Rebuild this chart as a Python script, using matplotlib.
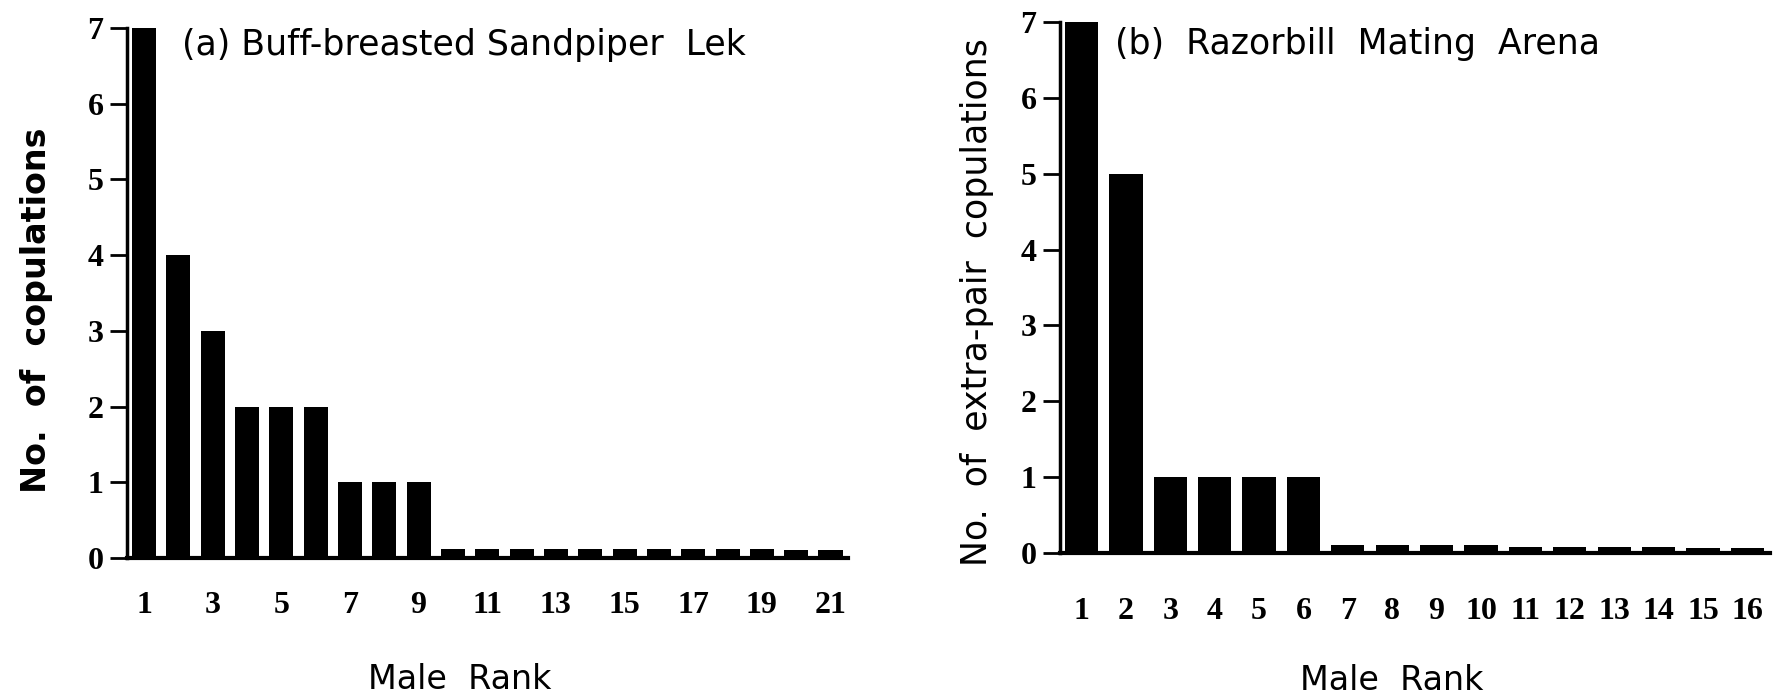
import matplotlib
matplotlib.use("Agg")
import matplotlib.pyplot as plt

# ---- data ----
ranks_a = list(range(1, 22))
copulations_a = [7, 4, 3, 2, 2, 2, 1, 1, 1,
                 0.12, 0.12, 0.12, 0.12, 0.12, 0.12, 0.12, 0.12, 0.12, 0.12, 0.1, 0.1]
xticks_a = [1, 3, 5, 7, 9, 11, 13, 15, 17, 19, 21]

ranks_b = list(range(1, 17))
copulations_b = [7, 5, 1, 1, 1, 1,
                 0.1, 0.1, 0.1, 0.1, 0.08, 0.08, 0.08, 0.08, 0.06, 0.06]
xticks_b = list(range(1, 17))

yticks = [0, 1, 2, 3, 4, 5, 6, 7]

title_a = "(a) Buff-breasted Sandpiper  Lek"
title_b = "(b)  Razorbill  Mating  Arena"
ylabel_a = "No.  of  copulations"
ylabel_b = "No.  of  extra-pair  copulations"
xlabel = "Male  Rank"

W, H = 1775, 699
fig = plt.figure(figsize=(W / 100, H / 100), dpi=100)

serif = {"family": "Liberation Serif", "weight": "bold", "size": 23}
sans = ["DejaVu Sans"]


def style(ax, xpad):
    for s in ("top", "right"):
        ax.spines[s].set_visible(False)
    ax.spines["left"].set_linewidth(2.5)
    ax.spines["bottom"].set_linewidth(3)
    ax.tick_params(axis="y", direction="out", length=12, width=2, pad=5)
    ax.tick_params(axis="x", length=0, pad=xpad)
    ax.set_ylim(0, 7)
    ax.set_yticks(yticks)
    ax.set_yticklabels([str(v) for v in yticks], fontdict=serif)


# panel (a)
ax1 = fig.add_axes([127 / W, 1 - 558 / H, (848 - 127) / W, (558 - 28) / H])
ax1.bar(ranks_a, copulations_a, width=0.7, color="black")
ax1.set_xlim(0.504, 21.51)
style(ax1, 24)
ax1.set_xticks(xticks_a)
ax1.set_xticklabels([str(v) for v in xticks_a], fontdict=serif)
fig.text(182 / W, 1 - 45 / H, title_a, family=sans, fontsize=25, ha="left", va="center")
fig.text(37 / W, 1 - 310 / H, ylabel_a, family=sans, fontsize=24, weight="bold",
         rotation=90, ha="center", va="center")
fig.text(460 / W, 1 - 689 / H, xlabel, family=sans, fontsize=24, ha="center", va="baseline")

# panel (b)
ax2 = fig.add_axes([1060 / W, 1 - 553 / H, (1770 - 1060) / W, (553 - 22) / H])
ax2.bar(ranks_b, copulations_b, width=0.75, color="black")
ax2.set_xlim(0.516, 16.51)
style(ax2, 32)
ax2.set_xticks(xticks_b)
ax2.set_xticklabels([str(v) for v in xticks_b], fontdict=serif)
fig.text(1115 / W, 1 - 44 / H, title_b, family=sans, fontsize=25, ha="left", va="center")
fig.text(977 / W, 1 - 302 / H, ylabel_b, family=sans, fontsize=25,
         rotation=90, ha="center", va="center")
fig.text(1392 / W, 1 - 690 / H, xlabel, family=sans, fontsize=24, ha="center", va="baseline")

fig.savefig("out.png", dpi=100, facecolor="white")
